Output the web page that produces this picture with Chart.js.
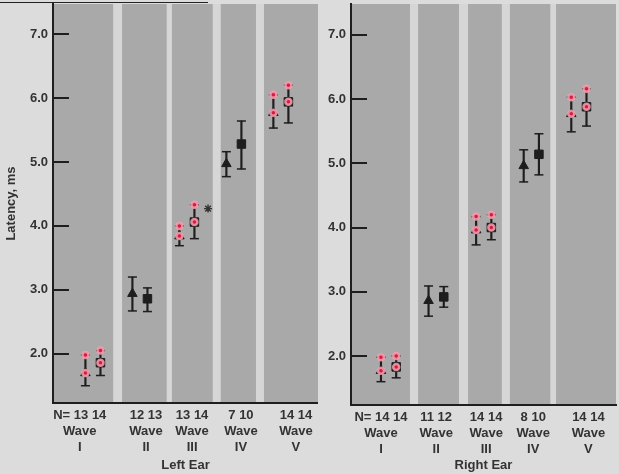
<!DOCTYPE html>
<html>
<head>
<meta charset="utf-8">
<script src="https://cdn.jsdelivr.net/npm/chart.js@4.4.1/dist/chart.umd.min.js"></script>
<style>
  html, body { margin: 0; padding: 0; }
  body {
    width: 619px;
    height: 474px;
    position: relative;
    overflow: hidden;
    background: #dcdcdc;
  }
  .panel { position: absolute; top: 0; height: 474px; }
  #leftPanel { left: 0; width: 318px; }
  #rightPanel { left: 300px; width: 319px; }
  .page-rule { position: absolute; left: 0; top: 2px; width: 208px; height: 1px; background: #222; }
</style>
</head>
<body>
<div class="page-rule"></div>
<div class="panel" id="leftPanel"><canvas id="chartLeft"></canvas></div>
<div class="panel" id="rightPanel"><canvas id="chartRight"></canvas></div>
<script>
const WAVES = ['I', 'II', 'III', 'IV', 'V'];
const Y_TICKS = [2, 3, 4, 5, 6, 7];
// red dots sit on waves I, III and V
const MARKED_WAVES = [0, 2, 4];

// Left ear: triangle = first group, square = second group
const leftTriN = [13, 12, 13, 7, 14];
const leftSqN = [14, 13, 14, 10, 14];
const leftTriMean = [1.70, 2.94, 3.84, 4.97, 5.77];
const leftTriHigh = [1.98, 3.20, 4.00, 5.16, 6.05];
const leftTriLow = [1.50, 2.67, 3.69, 4.77, 5.53];
const leftSqMean = [1.86, 2.86, 4.06, 5.28, 5.94];
const leftSqHigh = [2.05, 3.03, 4.33, 5.64, 6.20];
const leftSqLow = [1.66, 2.66, 3.80, 4.89, 5.61];
const leftStarValue = 4.27;

// Right ear
const rightTriN = [14, 11, 14, 8, 14];
const rightSqN = [14, 12, 14, 10, 14];
const rightTriMean = [1.77, 2.86, 3.96, 4.96, 5.77];
const rightTriHigh = [1.98, 3.09, 4.17, 5.21, 6.03];
const rightTriLow = [1.60, 2.62, 3.73, 4.71, 5.49];
const rightSqMean = [1.83, 2.92, 4.00, 5.14, 5.88];
const rightSqHigh = [2.00, 3.08, 4.20, 5.46, 6.16];
const rightSqLow = [1.66, 2.76, 3.81, 4.82, 5.58];

const INK = '#1e1e1e';
const TEXT = '#333333';
const COLUMN_GRAY = '#a9a9a9';
const STRIPE_GRAY = '#d6d6d6';
const FONT = "'Liberation Sans', Arial, sans-serif";
const PAIR_OFFSET = 0.16;

const LEFT_LAYOUT = {
  title: 'Left Ear',
  yTitle: 'Latency, ms',
  xMin: 0.15,
  xMax: 5.79,
  yMin: 1.23,
  yMax: 7.47,
  axisWidth: 53,
  axisHeight: 71,
  padRight: 0,
  labelPos: [0.72, 2.13, 3.11, 4.15, 5.32],
  stripes: [[1.43, 1.62], [2.57, 2.68], [3.55, 3.72], [4.47, 4.64]],
  starX: 3.45
};

const RIGHT_LAYOUT = {
  title: 'Right Ear',
  yTitle: '',
  xMin: 0.21,
  xMax: 5.78,
  yMin: 1.237,
  yMax: 7.48,
  axisWidth: 51,
  axisHeight: 69,
  padRight: 3,
  labelPos: [0.84, 2.0, 3.05, 4.04, 5.2],
  stripes: [[1.45, 1.62], [2.48, 2.67], [3.38, 3.55], [4.40, 4.52]],
  starX: null
};

const panelBackground = {
  id: 'panelBackground',
  beforeDraw(chart, args, opts) {
    const { ctx, chartArea: a, scales: { x } } = chart;
    ctx.save();
    ctx.fillStyle = COLUMN_GRAY;
    ctx.fillRect(a.left, a.top, a.right - a.left, a.bottom - a.top);
    ctx.fillStyle = STRIPE_GRAY;
    opts.stripes.forEach(([from, to]) => {
      const x0 = x.getPixelForValue(from);
      const x1 = x.getPixelForValue(to);
      ctx.fillRect(x0, a.top, x1 - x0, a.bottom - a.top);
    });
    ctx.restore();
  },
  afterDraw(chart) {
    // tick marks point inward from the axis
    const { ctx, chartArea: a, scales: { y } } = chart;
    ctx.save();
    ctx.strokeStyle = INK;
    ctx.lineWidth = 2;
    y.ticks.forEach((tick) => {
      const py = Math.round(y.getPixelForValue(tick.value));
      ctx.beginPath();
      ctx.moveTo(a.left, py);
      ctx.lineTo(a.left + 16, py);
      ctx.stroke();
    });
    ctx.restore();
  }
};

function buildPanel(canvasId, layout, s) {
  const triX = WAVES.map((_, i) => i + 1 - PAIR_OFFSET);
  const sqX = WAVES.map((_, i) => i + 1 + PAIR_OFFSET);

  const errorLines = [];
  const caps = [];
  WAVES.forEach((_, i) => {
    errorLines.push({ x: triX[i], y: [s.triLow[i], s.triHigh[i]] });
    errorLines.push({ x: sqX[i], y: [s.sqLow[i], s.sqHigh[i]] });
    caps.push({ x: triX[i], y: s.triLow[i] }, { x: triX[i], y: s.triHigh[i] });
    caps.push({ x: sqX[i], y: s.sqLow[i] }, { x: sqX[i], y: s.sqHigh[i] });
  });

  const redDots = [];
  MARKED_WAVES.forEach((i) => {
    redDots.push({ x: triX[i], y: s.triHigh[i] }, { x: triX[i], y: s.triMean[i] });
    redDots.push({ x: sqX[i], y: s.sqHigh[i] }, { x: sqX[i], y: s.sqMean[i] });
  });

  const datasets = [
    {
      type: 'bar',
      data: errorLines,
      backgroundColor: INK,
      barThickness: 1.5,
      grouped: false,
      order: 5
    },
    {
      type: 'scatter',
      data: caps,
      pointStyle: 'line',
      pointRadius: 4.5,
      borderColor: INK,
      borderWidth: 1.5,
      order: 4
    },
    {
      type: 'scatter',
      data: triX.map((x, i) => ({ x, y: s.triMean[i] })),
      pointStyle: 'triangle',
      pointRadius: 5.5,
      backgroundColor: INK,
      borderColor: INK,
      borderWidth: 1,
      order: 3
    },
    {
      type: 'scatter',
      data: sqX.map((x, i) => ({ x, y: s.sqMean[i] })),
      pointStyle: 'rect',
      pointRadius: 6,
      backgroundColor: INK,
      borderColor: INK,
      borderWidth: 1,
      order: 2
    },
    {
      type: 'scatter',
      data: redDots,
      pointStyle: 'circle',
      pointRadius: 3,
      backgroundColor: '#d21d3c',
      borderColor: 'rgba(244, 160, 178, 0.85)',
      borderWidth: 2.5,
      order: 1
    }
  ];

  if (layout.starX !== null) {
    datasets.push({
      type: 'scatter',
      data: [{ x: layout.starX, y: s.star }],
      pointStyle: 'star',
      pointRadius: 4,
      borderColor: '#333333',
      borderWidth: 1.4,
      order: 0
    });
  }

  const labels = WAVES.map((w, i) => [
    (i === 0 ? 'N= ' : '') + `${s.triN[i]} ${s.sqN[i]}`,
    'Wave',
    w
  ]);

  return new Chart(document.getElementById(canvasId), {
    type: 'bar',
    data: { datasets },
    plugins: [panelBackground],
    options: {
      responsive: true,
      maintainAspectRatio: false,
      animation: false,
      events: [],
      layout: {
        autoPadding: false,
        padding: { top: 4, right: layout.padRight, bottom: 0, left: 0 }
      },
      plugins: {
        legend: { display: false },
        tooltip: { enabled: false },
        panelBackground: { stripes: layout.stripes }
      },
      scales: {
        x: {
          type: 'linear',
          min: layout.xMin,
          max: layout.xMax,
          offset: false,
          afterBuildTicks: (scale) => {
            scale.ticks = layout.labelPos.map((v) => ({ value: v }));
          },
          afterFit: (scale) => {
            scale.height = layout.axisHeight;
            scale.paddingLeft = 0;
            scale.paddingRight = 0;
          },
          ticks: {
            autoSkip: false,
            maxRotation: 0,
            minRotation: 0,
            padding: 4,
            color: TEXT,
            font: { family: FONT, size: 13, weight: 'bold', lineHeight: 1.25 },
            callback: (value, index) => labels[index]
          },
          grid: { display: false, drawTicks: false },
          border: { color: INK, width: 2 },
          title: {
            display: true,
            text: layout.title,
            color: TEXT,
            font: { family: FONT, size: 13, weight: 'bold' },
            padding: { top: 0, bottom: 1 }
          }
        },
        y: {
          type: 'linear',
          min: layout.yMin,
          max: layout.yMax,
          afterBuildTicks: (scale) => {
            scale.ticks = Y_TICKS.map((v) => ({ value: v }));
          },
          afterFit: (scale) => {
            scale.width = layout.axisWidth;
            scale.paddingTop = 0;
            scale.paddingBottom = 0;
          },
          ticks: {
            padding: 5,
            color: TEXT,
            font: { family: FONT, size: 13, weight: 'bold' },
            callback: (value) => Number(value).toFixed(1)
          },
          grid: { display: false, drawTicks: false },
          border: { color: INK, width: 2 },
          title: {
            display: layout.yTitle !== '',
            text: layout.yTitle,
            color: TEXT,
            font: { family: FONT, size: 13, weight: 'bold' },
            padding: { top: 4, bottom: 0 }
          }
        }
      }
    }
  });
}

buildPanel('chartLeft', LEFT_LAYOUT, {
  triN: leftTriN, sqN: leftSqN,
  triMean: leftTriMean, triHigh: leftTriHigh, triLow: leftTriLow,
  sqMean: leftSqMean, sqHigh: leftSqHigh, sqLow: leftSqLow,
  star: leftStarValue
});

buildPanel('chartRight', RIGHT_LAYOUT, {
  triN: rightTriN, sqN: rightSqN,
  triMean: rightTriMean, triHigh: rightTriHigh, triLow: rightTriLow,
  sqMean: rightSqMean, sqHigh: rightSqHigh, sqLow: rightSqLow,
  star: null
});
</script>
</body>
</html>
